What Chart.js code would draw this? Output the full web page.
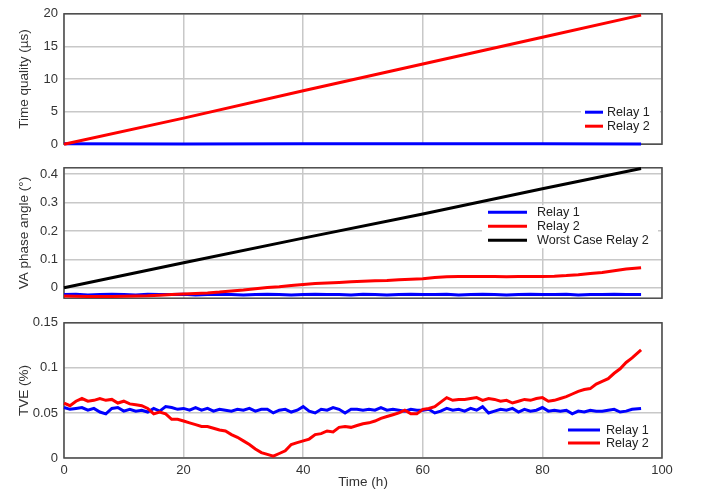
<!DOCTYPE html>
<html>
<head>
<meta charset="utf-8">
<script src="https://cdn.jsdelivr.net/npm/chart.js@4/dist/chart.umd.min.js"></script>
<style>
  html, body { margin: 0; padding: 0; background: #fff; }
  #wrap { position: relative; width: 701px; height: 491px; }
  canvas { position: absolute; left: 0; }
</style>
</head>
<body>
<div id="wrap">
  <canvas id="c1" width="701" height="158" style="top:0px"></canvas>
  <canvas id="c2" width="701" height="158" style="top:154px"></canvas>
  <canvas id="c3" width="701" height="182" style="top:309px"></canvas>
</div>
<script>
// ---------- DATA ----------
const seriesNames = ['Relay 1', 'Relay 2', 'Worst Case Relay 2'];
const xTicks = [0, 20, 40, 60, 80, 100];

// Panel 1: Time quality (µs)
const tqHours = [0, 20, 40, 60, 80, 96.5];
const tqRelay1 = [0.05, 0.04, 0.06, 0.05, 0.05, 0.04];
const tqRelay2 = [0, 4.0, 8.2, 12.3, 16.4, 19.8];
const tqTicks = [0, 5, 10, 15, 20];
const tqTickLabels = ['0', '5', '10', '15', '20'];

// Panel 2: VA phase angle (°)
const paHours = [0,2,4,6,8,10,12,14,16,18,20,22,24,26,28,30,32,34,36,38,40,42,44,46,48,50,52,54,56,58,60,62,64,66,68,70,72,74,76,78,80,82,84,86,88,90,92,94,96.5];
const paRelay1 = [-0.024,-0.023,-0.025,-0.024,-0.023,-0.024,-0.025,-0.023,-0.024,-0.024,-0.023,-0.025,-0.024,-0.023,-0.024,-0.025,-0.024,-0.023,-0.024,-0.025,-0.024,-0.023,-0.024,-0.024,-0.025,-0.023,-0.024,-0.025,-0.024,-0.023,-0.024,-0.024,-0.023,-0.025,-0.024,-0.023,-0.024,-0.025,-0.024,-0.023,-0.024,-0.024,-0.023,-0.025,-0.024,-0.024,-0.023,-0.024,-0.024];
const paRelay2 = [-0.029,-0.030,-0.031,-0.031,-0.031,-0.030,-0.029,-0.028,-0.026,-0.024,-0.022,-0.020,-0.018,-0.015,-0.011,-0.008,-0.003,0.001,0.004,0.008,0.012,0.015,0.017,0.019,0.021,0.023,0.025,0.026,0.028,0.030,0.032,0.036,0.039,0.040,0.040,0.040,0.040,0.039,0.040,0.040,0.040,0.041,0.043,0.046,0.050,0.054,0.060,0.066,0.071];
const paWorstHours = [0, 20, 40, 60, 80, 96.5];
const paWorst = [0, 0.088, 0.175, 0.26, 0.349, 0.42];
const paTicks = [0, 0.1, 0.2, 0.3, 0.4];
const paTickLabels = ['0', '0.1', '0.2', '0.3', '0.4'];

// Panel 3: TVE (%)
const tveHours = [0,1,2,3,4,5,6,7,8,9,10,11,12,13,14,15,16,17,18,19,20,21,22,23,24,25,26,27,28,29,30,31,32,33,34,35,36,37,38,39,40,41,42,43,44,45,46,47,48,49,50,51,52,53,54,55,56,57,58,59,60,61,62,63,64,65,66,67,68,69,70,71,72,73,74,75,76,77,78,79,80,81,82,83,84,85,86,87,88,89,90,91,92,93,94,95,96.5];
const tveRelay1 = [0.056,0.054,0.055,0.056,0.053,0.055,0.051,0.049,0.055,0.056,0.052,0.054,0.052,0.053,0.051,0.055,0.052,0.057,0.056,0.054,0.055,0.053,0.056,0.053,0.055,0.052,0.054,0.053,0.052,0.054,0.053,0.055,0.052,0.054,0.054,0.050,0.053,0.054,0.051,0.053,0.057,0.052,0.050,0.054,0.053,0.056,0.054,0.050,0.054,0.054,0.053,0.054,0.053,0.056,0.053,0.054,0.053,0.052,0.054,0.053,0.053,0.054,0.050,0.052,0.055,0.053,0.054,0.052,0.055,0.053,0.057,0.050,0.052,0.054,0.053,0.055,0.051,0.054,0.052,0.053,0.056,0.052,0.053,0.052,0.053,0.049,0.052,0.051,0.053,0.052,0.052,0.053,0.054,0.051,0.052,0.054,0.055];
const tveRelay2 = [0.061,0.058,0.063,0.066,0.063,0.064,0.066,0.064,0.065,0.061,0.063,0.060,0.059,0.058,0.055,0.049,0.051,0.049,0.043,0.043,0.041,0.039,0.037,0.035,0.035,0.033,0.031,0.030,0.026,0.023,0.019,0.015,0.010,0.006,0.004,0.002,0.005,0.008,0.015,0.017,0.019,0.021,0.026,0.027,0.030,0.029,0.034,0.035,0.034,0.036,0.038,0.039,0.041,0.044,0.046,0.048,0.050,0.053,0.049,0.049,0.054,0.055,0.057,0.062,0.067,0.064,0.065,0.065,0.066,0.067,0.064,0.066,0.065,0.063,0.064,0.061,0.063,0.065,0.064,0.066,0.067,0.063,0.064,0.066,0.068,0.071,0.074,0.076,0.077,0.082,0.085,0.088,0.094,0.099,0.106,0.111,0.120];
const tveTicks = [0, 0.05, 0.1, 0.15];
const tveTickLabels = ['0', '0.05', '0.1', '0.15'];

// ---------- STYLE ----------
const FONT = '"Liberation Sans", Arial, sans-serif';
const TXT = '#333';
const GRID = '#c8c8c8';
const FRAME = '#4a4a4a';
const BLUE = '#0000ff', RED = '#ff0000', BLACK = '#000000';
const TICK_SIZE = 13, TITLE_SIZE = 13.5, LEGEND_SIZE = 12.6;

function pts(xs, ys) { return xs.map((x, i) => ({ x: x, y: ys[i] })); }

const framePlugin = {
  id: 'frame',
  beforeDatasetsDraw(chart) {
    const { ctx, chartArea: a } = chart;
    ctx.save();
    ctx.strokeStyle = FRAME;
    ctx.lineWidth = 1.5;
    ctx.strokeRect(a.left, a.top, a.right - a.left, a.bottom - a.top);
    ctx.restore();
  }
};

const boxLegend = {
  id: 'boxLegend',
  afterDatasetsDraw(chart, args, o) {
    if (!o || !o.rows) return;
    const { ctx, chartArea: a } = chart;
    ctx.save();
    ctx.fillStyle = '#fff';
    ctx.fillRect(a.right + o.box[0], a.bottom + o.box[1], o.box[2], o.box[3]);
    ctx.font = LEGEND_SIZE + 'px ' + FONT;
    ctx.textBaseline = 'middle';
    ctx.textAlign = 'left';
    chart.data.datasets.forEach((ds, i) => {
      const y = a.bottom + o.rows[i];
      ctx.strokeStyle = ds.borderColor;
      ctx.lineWidth = 3;
      ctx.beginPath();
      ctx.moveTo(a.right + o.x0, y);
      ctx.lineTo(a.right + o.x0 + o.len, y);
      ctx.stroke();
      ctx.fillStyle = '#222';
      ctx.fillText(ds.label, a.right + o.tx, y + 0.5);
    });
    ctx.restore();
  }
};

function lineDs(label, data, color, order) {
  return {
    label, data, borderColor: color, backgroundColor: color,
    borderWidth: 3, pointRadius: 0, tension: 0, fill: false,
    order, clip: 4
  };
}

function makeChart(id, datasets, cfg) {
  return new Chart(document.getElementById(id), {
    type: 'line',
    data: { datasets },
    plugins: [framePlugin, boxLegend],
    options: {
      responsive: false,
      animation: false,
      events: [],
      layout: { padding: { left: 0, right: 39, top: 8, bottom: cfg.padBottom } },
      plugins: {
        legend: { display: false },
        tooltip: { enabled: false },
        boxLegend: cfg.legend
      },
      scales: {
        x: {
          type: 'linear', min: 0, max: 100,
          afterBuildTicks: (ax) => { ax.ticks = xTicks.map(v => ({ value: v })); },
          grid: { color: GRID, lineWidth: 1.5, drawTicks: false },
          border: { display: false },
          ticks: {
            display: cfg.showX, padding: 5, color: TXT,
            font: { family: FONT, size: TICK_SIZE },
            callback: (v) => String(v)
          },
          title: {
            display: cfg.showX, text: 'Time (h)', color: TXT,
            font: { family: FONT, size: TITLE_SIZE }, padding: { top: 0, bottom: 1 }
          },
          afterFit: (ax) => { ax.height = cfg.showX ? 33 : 0; }
        },
        y: {
          type: 'linear', min: cfg.yMin, max: cfg.yMax,
          afterBuildTicks: (ax) => { ax.ticks = cfg.yTicks.map(v => ({ value: v })); },
          grid: { color: GRID, lineWidth: 1.5, drawTicks: false },
          border: { display: false },
          ticks: {
            padding: 6, color: TXT, font: { family: FONT, size: TICK_SIZE },
            callback: (v, i) => cfg.yLabels[i]
          },
          title: {
            display: true, text: cfg.yTitle, color: TXT,
            font: { family: FONT, size: TITLE_SIZE }, padding: { top: 16, bottom: 0 }
          },
          afterFit: (ax) => { ax.width = 64; }
        }
      }
    }
  });
}

makeChart('c1', [
  lineDs(seriesNames[0], pts(tqHours, tqRelay1), BLUE, 1),
  lineDs(seriesNames[1], pts(tqHours, tqRelay2), RED, 0)
], {
  yMin: 0, yMax: 20, yTicks: tqTicks, yLabels: tqTickLabels,
  yTitle: 'Time quality (µs)', showX: false, padBottom: 9,
  legend: { box: [-81, -40, 79, 30], x0: -77, len: 18, tx: -55, rows: [-32, -18] }
});

makeChart('c2', [
  lineDs(seriesNames[0], pts(paHours, paRelay1), BLUE, 2),
  lineDs(seriesNames[1], pts(paHours, paRelay2), RED, 1),
  lineDs(seriesNames[2], pts(paWorstHours, paWorst), BLACK, 0)
], {
  yMin: -0.0366, yMax: 0.4227, yTicks: paTicks, yLabels: paTickLabels,
  yTitle: 'VA phase angle (°)', showX: false, padBottom: 8,
  legend: { box: [-180, -93, 176, 43], x0: -174, len: 39, tx: -125, rows: [-86, -72, -58] }
});

makeChart('c3', [
  lineDs(seriesNames[0], pts(tveHours, tveRelay1), BLUE, 1),
  lineDs(seriesNames[1], pts(tveHours, tveRelay2), RED, 0)
], {
  yMin: 0, yMax: 0.15, yTicks: tveTicks, yLabels: tveTickLabels,
  yTitle: 'TVE (%)', showX: true, padBottom: 0,
  legend: { box: [-99, -36, 95, 29], x0: -94, len: 32, tx: -56, rows: [-28, -15] }
});
</script>
</body>
</html>
